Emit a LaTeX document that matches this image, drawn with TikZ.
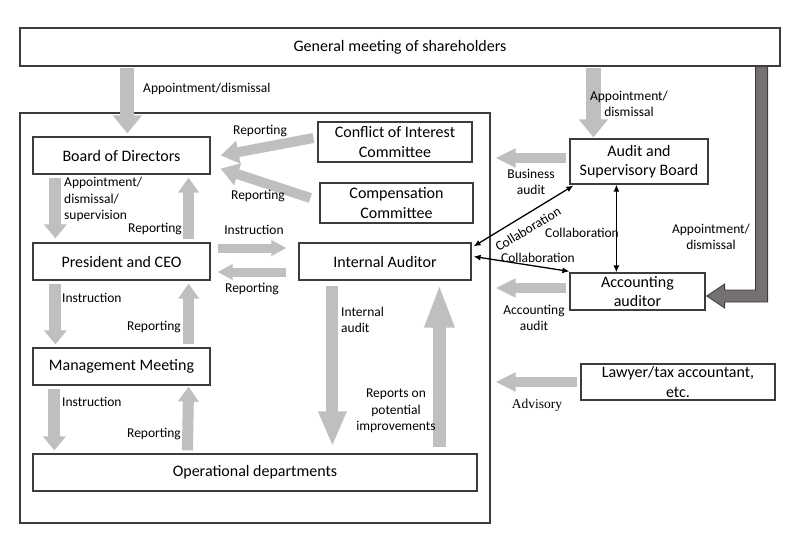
\documentclass[tikz,border=0pt]{standalone}
\usepackage{fontspec}
\setmainfont{Carlito}
\newfontfamily\advfont{Liberation Serif}
\usetikzlibrary{arrows.meta,calc}
\definecolor{arrgray}{RGB}{191,191,191}
\definecolor{boxline}{RGB}{60,60,60}
\definecolor{darkarr}{RGB}{118,113,113}
\definecolor{darkline}{RGB}{60,60,60}
\begin{document}
\begin{tikzpicture}[x=1pt,y=-1pt,
  box/.style={draw=boxline, line width=1.2pt, align=center, inner sep=0pt, font=\fontsize{16}{19.5}\selectfont},
  lbl/.style={font=\fontsize{13.5}{16.5}\selectfont, inner sep=0pt, align=center},
  garrow/.style n args={3}{draw=arrgray, line width=#1, -{Triangle[length=#2, width=#3]}},
  collab/.style={line width=1.3pt, {Latex[length=7pt,width=6pt]}-{Latex[length=7pt,width=6pt]}}]
\fill[white] (0,0) rectangle (800,552);
\useasboundingbox (0,0) rectangle (800,552);

% nodes
\node[box, minimum width=760pt, minimum height=38pt] (gm) at (400,47) {General meeting of shareholders};
\node[draw=boxline, line width=1.3pt, minimum width=470pt, minimum height=410pt, inner sep=0pt] (org) at (255,318) {};
\node[box, minimum width=177pt, minimum height=37pt] (bod) at (121.5,155.5) {Board of Directors};
\node[box, minimum width=154pt, minimum height=40pt] (coi) at (395,142) {Conflict of Interest\\Committee};
\node[box, minimum width=153pt, minimum height=40pt] (comp) at (396.5,203) {Compensation\\Committee};
\node[box, minimum width=177pt, minimum height=37pt] (ceo) at (121.5,261.5) {President and CEO};
\node[box, minimum width=172pt, minimum height=37pt] (ia) at (385,261.5) {Internal Auditor};
\node[box, minimum width=177pt, minimum height=37pt] (mm) at (121.5,366.5) {Management Meeting};
\node[box, minimum width=444pt, minimum height=37pt] (od) at (255,472.5) {Operational departments};
\node[box, minimum width=138pt, minimum height=45pt] (asb) at (639,161.5) {Audit and\\Supervisory Board};
\node[box, minimum width=135pt, minimum height=37pt] (aa) at (637.5,291.5) {Accounting\\auditor};
\node[box, minimum width=194pt, minimum height=36pt] (law) at (678,382) {Lawyer/tax accountant,\\etc.};

% dark arrow
\coordinate (T) at ($(aa.east)+(1,4.5)$);
\coordinate (G) at ($(gm.south east)+(-19,0)$);
\draw[fill=darkarr, draw=darkline, line width=0.8pt]
  ($(G)+(-6,0)$) -- ($(G)+(6,0)$) -- ($(G|-T)+(6,6)$) -- ($(T)+(18,6)$) -- ($(T)+(18,12)$)
  -- (T) -- ($(T)+(18,-12)$) -- ($(T)+(18,-6)$) -- ($(G|-T)+(-6,-6)$) -- cycle;

% gray arrows
\draw[garrow={14pt}{18pt}{28pt}] ($(gm.south west)+(108,1)$) -- ($(bod.north west)+(95,-3)$);
\draw[garrow={15pt}{18pt}{28pt}] ($(gm.south west)+(574,1)$) -- ($(asb.north west)+(24,-1)$);
\draw[garrow={10pt}{18pt}{22pt}] ($(coi.west)+(-4,-4)$) -- ($(bod.east)+(10,0)$);
\draw[garrow={10pt}{18pt}{22pt}] ($(comp.west)+(-9,-5)$) -- ($(bod.south east)+(10,-6)$);
\draw[garrow={12pt}{14pt}{22pt}] ($(bod.south west)+(23,3)$) -- ($(ceo.north west)+(23,-4)$);
\draw[garrow={11pt}{15pt}{20pt}] ($(ceo.north east)+(-22,-3)$) -- ($(bod.south east)+(-22,3)$);
\draw[garrow={9pt}{15pt}{15pt}] ($(ceo.east)+(7,-13.5)$) -- ($(ia.west)+(-12,-13.5)$);
\draw[garrow={9pt}{15pt}{15pt}] ($(ia.west)+(-12,10.5)$) -- ($(ceo.east)+(7,10.5)$);
\draw[garrow={12pt}{14pt}{22pt}] ($(ceo.south west)+(23,3)$) -- ($(mm.north west)+(23,-3)$);
\draw[garrow={11pt}{15pt}{20pt}] ($(mm.north east)+(-22,-3)$) -- ($(ceo.south east)+(-22,3)$);
\draw[garrow={12pt}{14pt}{22pt}] ($(mm.south west)+(22,3)$) -- ($(od.north west)+(22,-3)$);
\draw[garrow={11pt}{15pt}{20pt}] ($(od.north west)+(155,-3)$) -- ($(mm.south east)+(-22,1)$);
\draw[garrow={12pt}{35pt}{26pt}] ($(ia.south west)+(34,5)$) -- ($(od.north west)+(300,-7)$);
\draw[garrow={13pt}{44pt}{27pt}] ($(od.north west)+(407,-6)$) -- ($(ia.south west)+(141,3)$);
\draw[garrow={10pt}{20pt}{18pt}] ($(asb.west)+(-3,-3.5)$) -- ($(asb.west -| org.east)+(5,-3.5)$);
\draw[garrow={10pt}{20pt}{18pt}] ($(aa.west)+(-3,-3.5)$) -- ($(aa.west -| org.east)+(5,-3.5)$);
\draw[garrow={10pt}{20pt}{18pt}] ($(law.west)+(-3,0)$) -- ($(law.west -| org.east)+(5,0)$);

% collaboration arrows
\draw[collab] ($(ia.north east)+(2,4)$) -- ($(asb.south west)+(4,1)$);
\draw[collab] ($(asb.south west)+(47,0)$) -- ($(aa.north west)+(47,0)$);
\draw[collab] ($(ia.east)+(2,-5)$) -- ($(aa.north west)+(0,-1)$);

% labels
\node[lbl, anchor=west] (l1) at (143,89) {Appointment/dismissal};
\node[lbl] (l2) at (629,104) {Appointment/\\dismissal};
\node[lbl] (l3) at (711,237) {Appointment/\\dismissal};
\node[lbl] (l4) at (260,131) {Reporting};
\node[lbl] (l5) at (258,196) {Reporting};
\node[lbl, anchor=west, align=left] (l6) at (64,199.5) {Appointment/\\dismissal/\\supervision};
\node[lbl] (l7) at (155,229) {Reporting};
\node[lbl] (l8) at (254,230) {Instruction};
\node[lbl] (l9) at (252,289) {Reporting};
\node[lbl, anchor=west] (l10) at (62,298) {Instruction};
\node[lbl] (l11) at (154,327) {Reporting};
\node[lbl, anchor=west] (l12) at (62,402) {Instruction};
\node[lbl] (l13) at (154,434) {Reporting};
\node[lbl, anchor=west, align=left] (l14) at (341,320) {Internal\\audit};
\node[lbl] (l15) at (396,411) {Reports on\\potential\\improvements};
\node[lbl] (l16) at (531,182) {Business\\audit};
\node[lbl] (l17) at (534,318) {Accounting\\audit};
\node[lbl, font=\advfont\fontsize{13.5}{16}\selectfont] (l18) at (537,405) {Advisory};
\node[lbl, rotate=31] (l19) at (528,229) {Collaboration};
\node[lbl] (l20) at (582,233) {Collaboration};
\node[lbl] (l21) at (538,258) {Collaboration};
\end{tikzpicture}
\end{document}
